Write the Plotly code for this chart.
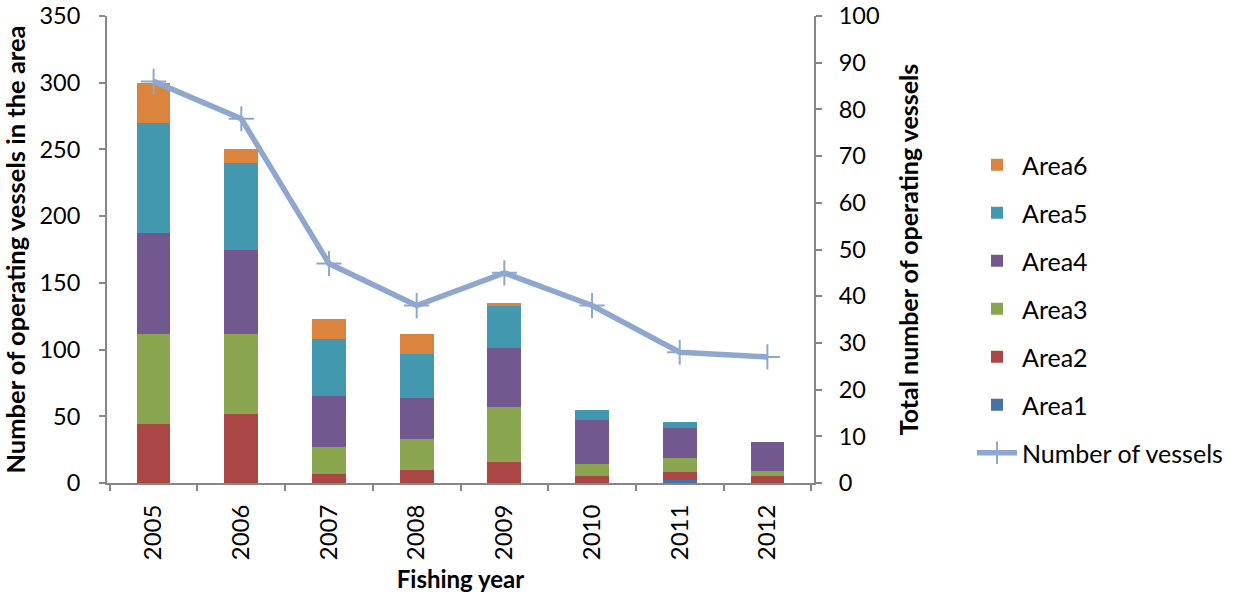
import plotly.graph_objects as go

years = ["2005", "2006", "2007", "2008", "2009", "2010", "2011", "2012"]
area1 = [0, 0, 0, 0, 0, 0, 2, 0]
area2 = [44, 52, 7, 10, 16, 5, 6, 5]
area3 = [68, 60, 20, 23, 41, 9, 11, 4]
area4 = [75, 63, 38, 31, 44, 33, 22, 22]
area5 = [83, 65, 43, 33, 32, 8, 5, 0]
area6 = [30, 10, 15, 15, 2, 0, 0, 0]
vessels = [86, 78, 47, 38, 45, 38, 28, 27]

areas = [("Area1", area1, "#4572A7"), ("Area2", area2, "#AA4643"),
         ("Area3", area3, "#89A54E"), ("Area4", area4, "#71588F"),
         ("Area5", area5, "#4198AF"), ("Area6", area6, "#DB843D")]

FONT = "Lato"
fig = go.Figure()
for i, (name, vals, col) in enumerate(areas):
    fig.add_trace(go.Bar(
        x=years, y=vals, name=name, marker=dict(color=col, line=dict(width=0)),
        legendrank=6 - i, legendgroup=name, yaxis="y"))

fig.add_trace(go.Scatter(
    x=years, y=vessels, name="Number of vessels", yaxis="y2",
    mode="lines+markers", line=dict(color="#8EA7CF", width=5.5),
    marker=dict(symbol="cross-thin", size=18, line=dict(color="#8EA7CF", width=2)),
    legendrank=7, legendgroup="vessels"))

axis_col = "#868686"
fig.update_layout(
    width=1236, height=599,
    barmode="stack", bargap=0.615,
    paper_bgcolor="white", plot_bgcolor="white",
    margin=dict(l=107, r=422, t=16, b=116),
    font=dict(family=FONT, size=24, color="black"),
    showlegend=True,
    legend=dict(xref="container", yref="container", x=972 / 1236, y=1 - 142 / 599,
                xanchor="left", yanchor="top", font=dict(size=25, family=FONT),
                tracegroupgap=12.5, itemwidth=40, maxheight=1.0,
                bgcolor="rgba(0,0,0,0)"),
    xaxis=dict(type="category", showline=True, linecolor=axis_col, linewidth=2,
               ticks="outside", tickson="boundaries", ticklen=6, tickcolor=axis_col,
               tickwidth=1.5, tickangle=-90, tickfont=dict(size=24),
               ticklabelstandoff=10, automargin=False,
               title=dict(text="<b>Fishing year</b>", font=dict(size=24), standoff=12),
               showgrid=False),
    yaxis=dict(range=[0, 350], dtick=50, showline=True, linecolor=axis_col, linewidth=2,
               ticks="outside", ticklen=6, tickcolor=axis_col, tickwidth=1.5,
               ticklabelstandoff=14, automargin=False,
               showgrid=False, zeroline=False, tickfont=dict(size=23.5),
               title=dict(text="<b>Number of operating vessels in the area</b>",
                          font=dict(size=25.5), standoff=8)),
    yaxis2=dict(range=[0, 100], dtick=10, overlaying="y", side="right",
                showline=True, linecolor=axis_col, linewidth=2,
                ticks="outside", ticklen=6, tickcolor=axis_col, tickwidth=1.5,
                ticklabelstandoff=12, automargin=False,
                showgrid=False, zeroline=False, tickfont=dict(size=23.5),
                title=dict(text="<b>Total number of operating vessels</b>",
                           font=dict(size=25), standoff=22)),
)

fig.write_html("out.html")
